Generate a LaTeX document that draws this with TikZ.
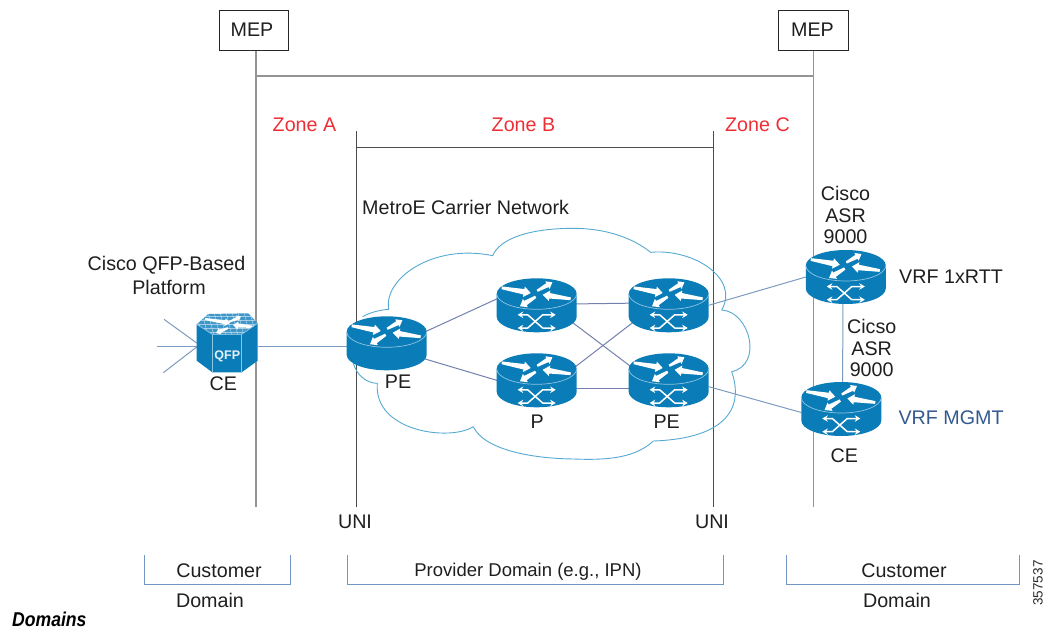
\documentclass[tikz,border=0pt]{standalone}
\usepackage{fontspec}
\setmainfont{Liberation Sans}
\usetikzlibrary{arrows.meta,calc}
\definecolor{routerblue}{HTML}{0A7CB8}
\definecolor{rimblue}{HTML}{8FC4E0}
\definecolor{toplight}{HTML}{3F97C9}
\definecolor{linkdark}{HTML}{7480AE}
\definecolor{linklight}{HTML}{7C9BC0}
\definecolor{bracketblue}{HTML}{7198C4}
\definecolor{cloudblue}{HTML}{55AAD2}
\definecolor{zonered}{HTML}{EE2E36}
\definecolor{mgmtblue}{HTML}{33598F}
\newcommand{\wharrow}[5]{%
  \pgfmathsetmacro\raDx{#3-(#1)}\pgfmathsetmacro\raDy{#4-(#2)}%
  \pgfmathsetmacro\raL{veclen(\raDx,\raDy)}%
  \pgfmathsetmacro\raUx{\raDx/\raL}\pgfmathsetmacro\raUy{\raDy/\raL}%
  \pgfmathsetmacro\raNx{-\raUy*#5}\pgfmathsetmacro\raNy{\raUx*#5}%
  \pgfmathsetmacro\raMx{#3-\raUx*#5*1.5}\pgfmathsetmacro\raMy{#4-\raUy*#5*1.5}%
  \fill[white] ({#1+.3*\raNx},{#2+.3*\raNy}) -- ({\raMx+.6*\raNx},{\raMy+.6*\raNy})
    -- ({\raMx+1.15*\raNx},{\raMy+1.15*\raNy}) -- (#3,#4)
    -- ({\raMx-1.15*\raNx},{\raMy-1.15*\raNy}) -- ({\raMx-.6*\raNx},{\raMy-.6*\raNy})
    -- ({#1-.3*\raNx},{#2-.3*\raNy}) -- cycle;}
\newcommand{\routerbody}{%
  \fill[routerblue] (-40,-11.5) -- (-40,11.5) arc[start angle=180,end angle=360,x radius=40pt,y radius=15.5pt]
     -- (40,-11.5) arc[start angle=0,end angle=180,x radius=40pt,y radius=15.5pt] -- cycle;
  \draw[rimblue,line width=.7pt] (-40,-11.5) arc[start angle=180,end angle=360,x radius=40pt,y radius=15.5pt];
  \wharrow{-35}{-17.5}{-6}{-12.3}{4.6}
  \wharrow{0.5}{-14.5}{15.7}{-23}{3.8}
  \wharrow{34}{-6.5}{6}{-10.5}{4.6}
  \wharrow{-1}{-8.5}{-16.7}{1}{4.2}}
\tikzset{
  x=1pt,y=-1pt,
  lbl/.style={font=\fontsize{19.7}{22}\selectfont,inner sep=0pt,text=black!88},
  zonelbl/.style={lbl,text=zonered},
  routerbox/.style={minimum width=80pt,minimum height=54pt,inner sep=0pt,outer sep=0pt},
  hexbox/.style={minimum width=61pt,minimum height=59pt,inner sep=0pt,outer sep=0pt},
  mepbox/.style={draw=black!85,line width=.9pt,minimum width=69.5pt,minimum height=40.5pt,inner sep=0pt,fill=white},
  meline/.style={draw=black!42,line width=1.7pt},
  uniline/.style={draw=black!70,line width=.9pt},
  link/.style={draw=linkdark,line width=1pt,shorten <=-6pt,shorten >=-6pt},
  linkb/.style={draw=linklight,line width=1pt},
  bracket/.style={draw=bracketblue,line width=1pt},
  xarrow/.style={white,line width=1.5pt,line join=round,{Stealth[length=5.5pt,width=6.5pt]}-{Stealth[length=5.5pt,width=6.5pt]}},
  pics/plainrouter/.style={code={\routerbody}},
  pics/xrouter/.style={code={\routerbody
    \draw[xarrow] (-19,9.5) -- (-9,9.5) -- (6,22.7) -- (19,22.7);
    \draw[xarrow] (-19,22.7) -- (-9,22.7) -- (6,9.5) -- (19,9.5);}},
}
\begin{document}
\begin{tikzpicture}
\useasboundingbox (0,0) rectangle (1045,629);
% named holders
\node[routerbox] (pe1) at (386.7,343.3) {};
\node[routerbox] (p1) at (536.7,305.3) {};
\node[routerbox] (p2) at (536.7,380.3) {};
\node[routerbox] (pe2) at (668.7,305.3) {};
\node[routerbox] (pe4) at (668.7,380.3) {};
\node[routerbox] (r1) at (845.8,277) {};
\node[routerbox] (r2) at (841.3,409) {};
\node[hexbox] (ce) at (227.2,343) {};
\coordinate (fana) at (164,319.3);
\coordinate (fanb) at (156.7,346);
\coordinate (fanc) at (163.3,372.7);
\coordinate (lbot) at (255.7,507);
\coordinate (rbot) at (813.5,507);
\coordinate (itopl) at (356.2,131);
\coordinate (itopr) at (713.4,131);
\coordinate (ibotl) at (356.2,507);
\coordinate (ibotr) at (713.4,507);
\node[mepbox] (mepl) at (253.8,30.3) {};
\node[mepbox] (mepr) at (813.6,30.3) {};
\node[lbl] (mepltxt) at (252,29.3) {MEP};
\node[lbl] (meprtxt) at (812.5,29.3) {MEP};
% long vertical lines
\draw[meline] (mepl.south -| lbot) -- (lbot);
\draw[meline] (mepr.south -| rbot) -- (rbot);
\draw[meline] (lbot |- 0,76) -- (rbot |- 0,76);
\draw[uniline] (itopl) -- (ibotl);
\draw[uniline] (itopr) -- (ibotr);
\draw[uniline] (356.2,147.5) -- (713.4,147.5);
% cloud
\begin{scope}[shift={(340,215)},x=.33333pt,y=-.33333pt]
\draw[cloudblue,line width=.9pt,line join=round] (68,305) .. controls (90,292) and (120,285) .. (146,283)
 .. controls (130,190) and (280,85) .. (458,122)
 .. controls (480,70) and (570,40) .. (700,40)
 .. controls (800,40) and (880,70) .. (932,112)
 .. controls (1060,100) and (1200,190) .. (1145,285)
 .. controls (1230,290) and (1270,450) .. (1175,470)
 .. controls (1210,570) and (1170,670) .. (940,678)
 .. controls (880,735) and (780,735) .. (700,732)
 .. controls (560,730) and (430,700) .. (400,635)
 .. controls (330,680) and (100,650) .. (112,505)
 .. controls (80,505) and (50,480) .. (40,445);
\end{scope}
% connectors
\draw[linkb] (fana) -- ($(ce.west)+(0,0)$);
\draw[linkb] (fanb) -- ($(ce.west)+(0,3)$);
\draw[linkb] (fanc) -- ($(ce.west)+(0,4)$);
\draw[linkb] (ce.east) ++(0,3) -- (pe1.west |- 0,346);
\draw[link] (pe1.17.5) -- (p1.171);
\draw[link] (pe1.-22.4) -- (p2.west);
\draw[link] (p1.2.9) -- (pe2.177.1);
\draw[link] (p2.-11.3) -- (pe4.191.3);
\draw[link] (p1.-27.9) -- (pe4.159.4);
\draw[link] (p2.20.3) -- (pe2.207.4);
\draw[linkb] (pe2.east) -- (r1.west);
\draw[linkb] (pe4.-9.5) -- (r2.185.3);
\draw[linkb] ($(r1.south)+(-3,0)$) -- ($(r2.north)+(1.4,0)$);
% routers
\pic at (pe1) {plainrouter};
\pic at (p1) {xrouter};
\pic at (p2) {xrouter};
\pic at (pe2) {xrouter};
\pic at (pe4) {xrouter};
\pic at (r1) {xrouter};
\pic at (r2) {xrouter};
% QFP hexagonal router
\fill[routerblue] (196.7,324.3) -- (196.7,360.7) -- (212.3,372.3) -- (241.7,372.3) -- (257.7,360.7) -- (257.7,323.3) -- (241.7,334.3) -- (212.3,334.3) -- cycle;
\fill[toplight] (196.7,324.3) -- (208.3,314) -- (248.3,313.3) -- (257.7,323.3) -- (241.7,334.3) -- (212.3,334.3) -- cycle;
\begin{scope}
\clip (196.7,324.3) -- (208.3,314) -- (248.3,313.3) -- (257.7,323.3) -- (241.7,334.3) -- (212.3,334.3) -- cycle;
\foreach \hx in {190,196,...,265} \draw[white,opacity=.5,line width=.5pt] (\hx,312) -- (\hx+6,336);
\foreach \hy in {316,320,...,334} \draw[white,opacity=.5,line width=.5pt] (195,\hy) -- (260,\hy);
\wharrow{205}{319}{230}{323}{3.4}
\wharrow{229}{322}{241}{316.5}{2.6}
\wharrow{255}{327}{233}{325}{3.4}
\wharrow{228}{328}{216}{333}{3}
\end{scope}
\draw[rimblue,line width=.7pt,line join=round] (196.7,324.3) -- (212.3,334.3) -- (241.7,334.3) -- (257.7,323.3);
\draw[rimblue,line width=.7pt] (212.3,334.3) -- (212.3,372.3);
\draw[rimblue,line width=.7pt] (241.7,334.3) -- (241.7,372.3);
\node[font=\fontsize{12.5}{14}\selectfont\bfseries,text=white!90!routerblue,inner sep=0pt] (qfp) at (227.3,356.7) {QFP};
% labels
\node[zonelbl] (za) at (304.5,125) {Zone A};
\node[zonelbl] (zb) at (523.5,125) {Zone B};
\node[zonelbl] (zc) at (757.5,125) {Zone C};
\node[lbl,anchor=west] (metro) at (362,207) {MetroE Carrier Network};
\node[lbl,align=center,font=\fontsize{19.7}{21.5}\selectfont] (asr1) at (845.5,215) {Cisco\\ASR\\9000};
\node[lbl,align=center,font=\fontsize{19.7}{21.5}\selectfont] (asr2) at (871.7,348) {Cicso\\ASR\\9000};
\node[lbl,anchor=west] (vrf1) at (899,277) {VRF 1xRTT};
\node[lbl,anchor=west,text=mgmtblue] (vrf2) at (898.3,417.5) {VRF MGMT};
\node[lbl] (celeft) at (223.4,384) {CE};
\node[lbl] (ceright) at (844.3,456) {CE};
\node[lbl] (pelbl) at (398,381.7) {PE};
\node[lbl] (plbl) at (537.3,421.7) {P};
\node[lbl] (pe2lbl) at (666.7,421.7) {PE};
\node[lbl] (qfplbl) at (166.5,265) {Cisco QFP-Based};
\node[lbl] (qfplbltwo) at (169,287) {Platform};
\node[lbl] (unil) at (355,522) {UNI};
\node[lbl] (unir) at (712,522) {UNI};
% domain brackets
\coordinate (b1a) at (144.5,555); \coordinate (b1b) at (290,555);
\coordinate (b2a) at (347,555); \coordinate (b2b) at (723,555);
\coordinate (b3a) at (786,555); \coordinate (b3b) at (1019.3,555);
\draw[bracket] (b1a) |- (0,584.3 -| b1b) -- (b1b);
\draw[bracket] (b2a) |- (0,584.3 -| b2b) -- (b2b);
\draw[bracket] (b3a) |- (0,584.3 -| b3b) -- (b3b);
\node[lbl] (c1) at (219,570.5) {Customer};
\node[lbl] (d1) at (210,600.5) {Domain};
\node[lbl,font=\fontsize{18.5}{22}\selectfont] (prov) at (528,572) {Provider Domain (e.g., IPN)};
\node[lbl] (c3) at (904,570.5) {Customer};
\node[lbl] (d3) at (897,600.5) {Domain};
\node[font=\fontsize{20}{22}\selectfont\bfseries\itshape,xscale=.88,anchor=west,inner sep=0pt] (dom) at (12,619) {Domains};
\node[font=\fontsize{13.5}{15}\selectfont,rotate=90,inner sep=0pt,text=black!85] (fignum) at (1038,583) {357537};
\end{tikzpicture}
\end{document}
